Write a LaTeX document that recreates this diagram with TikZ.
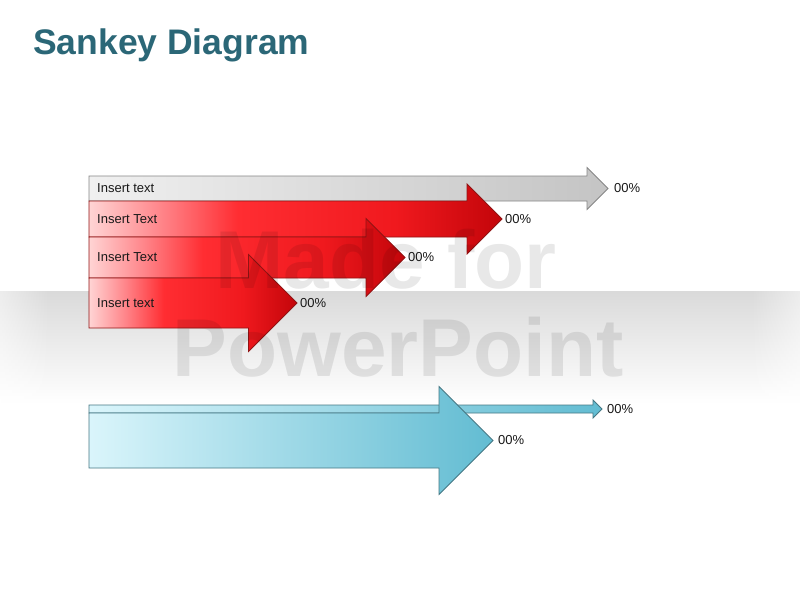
\documentclass[tikz,border=0pt]{standalone}
\usepackage{fontspec}
\setmainfont{Liberation Sans}
\definecolor{titlecol}{RGB}{43,103,119}
\definecolor{bandgray}{RGB}{218,218,218}
\definecolor{redlight}{RGB}{255,212,212}
\definecolor{redpink}{RGB}{255,130,135}
\definecolor{redmid}{RGB}{255,45,50}
\definecolor{redmid2}{RGB}{240,25,30}
\definecolor{reddark}{RGB}{195,5,10}
\definecolor{redline}{RGB}{145,20,20}
\definecolor{graylight}{RGB}{240,240,240}
\definecolor{graydark}{RGB}{196,196,196}
\definecolor{grayline}{RGB}{135,135,135}
\definecolor{bluelight}{RGB}{218,245,251}
\definecolor{bluedark}{RGB}{98,188,210}
\definecolor{blueline}{RGB}{70,120,132}
\colorlet{bandc}{bandgray}
\pgfdeclarehorizontalshading{redsh}{100bp}{color(0bp)=(redlight); color(25bp)=(redlight); color(34bp)=(redpink); color(43bp)=(redmid); color(62bp)=(redmid2); color(75bp)=(reddark); color(100bp)=(reddark)}
\pgfdeclarehorizontalshading[bandc]{bandsh}{100bp}{color(0bp)=(white); color(25bp)=(white!50!bandc); color(28bp)=(bandc); color(72bp)=(bandc); color(75bp)=(white!50!bandc); color(100bp)=(white)}
\tikzset{
  redarrow/.style={draw=redline, line width=0.8pt, shading=redsh},
  grayarrow/.style={draw=grayline, line width=0.8pt, left color=graylight, right color=graydark},
  bluearrow/.style={draw=blueline, line width=0.8pt, left color=bluelight, right color=bluedark},
  lbl/.style={font=\fontsize{13}{13}\selectfont, text=black!90, inner sep=0pt},
  pct/.style={lbl, anchor=west},
  itext/.style={lbl, anchor=west},
  wmark/.style={font=\bfseries\fontsize{82}{82}\selectfont, text=black, text opacity=0.09, inner sep=0pt, anchor=base}
}
% style, name, top y, bottom y, head half height, tip x
\newcommand\skarrow[6]{%
  \coordinate (#2) at (#6,{(#3+#4)/2});
  \path[#1] (89,#3) -- ({#6-#5},#3) -- ({#6-#5},{(#3+#4)/2-#5}) -- (#2)
    -- ({#6-#5},{(#3+#4)/2+#5}) -- ({#6-#5},#4) -- (89,#4) -- cycle;}
\begin{document}
\begin{tikzpicture}[x=1pt,y=-1pt]
\useasboundingbox (0,0) rectangle (800,600);
\fill[white] (0,0) rectangle (800,600);
% background band
\foreach \i in {0,...,36}{
  \pgfmathsetmacro\p{100*(1-\i/37)}
  \colorlet{bandc}{bandgray!\p!white}
  \shade[shading=bandsh] (0,{291+3*\i}) rectangle (800,{291+3*\i+3.4});
}
% title
\node[anchor=base west, font=\bfseries\fontsize{35.5}{35.5}\selectfont, text=titlecol, inner sep=0pt] (title) at (33,54) {Sankey Diagram};
% arrows
\skarrow{grayarrow}{tg}{176}{201}{21}{608}
\skarrow{redarrow}{t1}{201}{237}{35}{502}
\skarrow{redarrow}{t2}{237}{278}{39}{405}
\skarrow{redarrow}{t3}{278}{328}{48.5}{297}
\skarrow{bluearrow}{tb2}{405}{413}{9}{602}
\skarrow{bluearrow}{tb1}{413}{468}{54}{493}
% texts
\node[itext] (i0) at (97,188.5) {Insert text};
\node[itext] (i1) at (97,219) {Insert Text};
\node[itext] (i2) at (97,257.5) {Insert Text};
\node[itext] (i3) at (97,303) {Insert text};
\node[pct] (pg) at ([xshift=6pt]tg) {00\%};
\node[pct] (p1) at ([xshift=3pt]t1) {00\%};
\node[pct] (p2) at ([xshift=3pt]t2) {00\%};
\node[pct] (p3) at ([xshift=3pt]t3) {00\%};
\node[pct] (pb2) at ([xshift=5pt]tb2) {00\%};
\node[pct] (pb1) at ([xshift=5pt]tb1) {00\%};
% watermark
\node[wmark] (w1) at (386,288) {Made for};
\node[wmark] (w2) at (398,376) {PowerPoint};
\end{tikzpicture}
\end{document}
